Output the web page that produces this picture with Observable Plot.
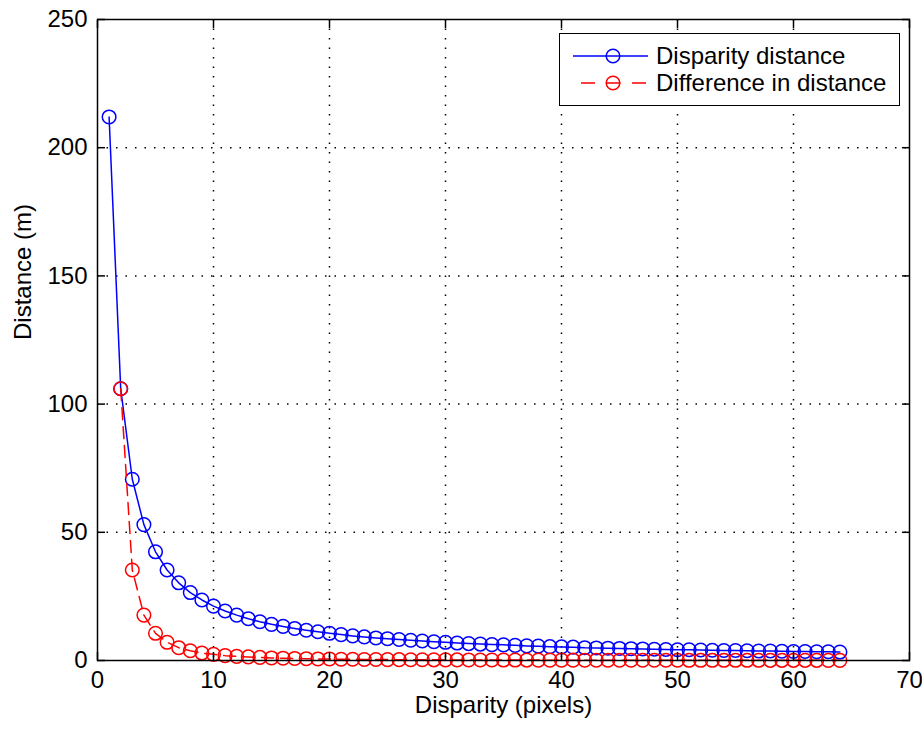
<!DOCTYPE html>
<html>
<head>
<meta charset="utf-8">
<script src="https://cdn.jsdelivr.net/npm/d3@7"></script>
<script src="https://cdn.jsdelivr.net/npm/@observablehq/plot@0.6"></script>
<style>
  html, body { margin: 0; padding: 0; background: #fff; }
  #wrap { position: relative; width: 922px; height: 729px; }
  #legend { position: absolute; left: 559px; top: 33px; width: 341px; height: 73px;
            box-sizing: border-box; border: 1px solid #000; background: #fff; }
</style>
</head>
<body>
<div id="wrap"><div id="legend"></div></div>
<script>
// ---- data ----
const disparity = d3.range(1, 65); // 1..64 pixels (x positions of markers)
const disparityDistance = [
  212.0, 106.0, 70.7, 53.0, 42.4, 35.3, 30.3, 26.5, 23.6, 21.2,
  19.3, 17.7, 16.3, 15.1, 14.1, 13.3, 12.5, 11.8, 11.2, 10.6,
  10.1, 9.6, 9.2, 8.8, 8.5, 8.2, 7.9, 7.6, 7.3, 7.1,
  6.8, 6.6, 6.4, 6.2, 6.1, 5.9, 5.7, 5.6, 5.4, 5.3,
  5.2, 5.0, 4.9, 4.8, 4.7, 4.6, 4.5, 4.4, 4.3, 4.2,
  4.2, 4.1, 4.0, 3.9, 3.9, 3.8, 3.7, 3.7, 3.6, 3.5,
  3.5, 3.4, 3.4, 3.3
];
const differenceDisparity = d3.range(2, 65); // 2..64
const differenceInDistance = [
  106.0, 35.3, 17.7, 10.6, 7.1, 5.0, 3.8, 2.9, 2.4,
  1.9, 1.6, 1.4, 1.2, 1.0, 0.9, 0.8, 0.7, 0.6, 0.6,
  0.5, 0.5, 0.4, 0.4, 0.35, 0.33, 0.3, 0.28, 0.26, 0.24,
  0.23, 0.21, 0.2, 0.19, 0.18, 0.17, 0.16, 0.15, 0.14, 0.14,
  0.13, 0.12, 0.12, 0.11, 0.11, 0.1, 0.1, 0.09, 0.09, 0.09,
  0.08, 0.08, 0.08, 0.07, 0.07, 0.07, 0.07, 0.06, 0.06, 0.06,
  0.06, 0.06, 0.05, 0.05
];
const xTicks = [0, 10, 20, 30, 40, 50, 60, 70];
const yTicks = [0, 50, 100, 150, 200, 250];
const seriesNames = ["Disparity distance", "Difference in distance"];
const seriesColors = ["#0000ff", "#ff0000"];
const xLabel = "Disparity (pixels)";
const yLabel = "Distance (m)";

const blue = disparity.map((x, i) => ({x, y: disparityDistance[i]}));
const red = differenceDisparity.map((x, i) => ({x, y: differenceInDistance[i]}));

const FONT = "Liberation Sans, Arial, sans-serif";
const FS = 24;
const chart = Plot.plot({
  width: 922, height: 729,
  marginLeft: 97, marginRight: 13, marginTop: 19, marginBottom: 69,
  style: {fontFamily: FONT, fontSize: FS + "px", color: "#000", background: "transparent"},
  x: {domain: [0, 70], label: null},
  y: {domain: [0, 250], label: null},
  marks: [
    Plot.gridX(xTicks.slice(1, -1), {stroke: "#000", strokeOpacity: 1, strokeWidth: 1.5, strokeDasharray: "1.5,8"}),
    Plot.gridY(yTicks.slice(1, -1), {stroke: "#000", strokeOpacity: 1, strokeWidth: 1.5, strokeDasharray: "1.5,8"}),
    Plot.line(blue, {x: "x", y: "y", stroke: seriesColors[0], strokeWidth: 1.5}),
    Plot.dot(blue, {x: "x", y: "y", r: 6.8, stroke: seriesColors[0], strokeWidth: 1.5, fill: "none"}),
    Plot.line(red, {x: "x", y: "y", stroke: seriesColors[1], strokeWidth: 1.5, strokeDasharray: "12,7"}),
    Plot.dot(red, {x: "x", y: "y", r: 6.8, stroke: seriesColors[1], strokeWidth: 1.5, fill: "none"}),
    Plot.frame({stroke: "#000", strokeWidth: 1.5}),
    Plot.axisX(xTicks, {anchor: "bottom", tickSize: -8, tickPadding: 18, strokeWidth: 1.5, fontSize: FS, label: null}),
    Plot.axisX(xTicks, {anchor: "top", tickSize: -8, tickFormat: () => "", strokeWidth: 1.5, label: null}),
    Plot.axisY(yTicks, {anchor: "left", tickSize: -8, tickPadding: 18, strokeWidth: 1.5, fontSize: FS, label: null}),
    Plot.axisY(yTicks, {anchor: "right", tickSize: -8, tickFormat: () => "", strokeWidth: 1.5, label: null}),
    Plot.text([xLabel], {frameAnchor: "bottom", dy: 52, fontSize: FS, text: d => d}),
    Plot.text([yLabel], {frameAnchor: "left", dx: -74, rotate: -90, fontSize: FS, text: d => d})
  ]
});
const wrap = document.getElementById("wrap");
wrap.insertBefore(chart, wrap.firstChild);

// ---- legend (inside plot, top-right) ----
const lg = d3.select("#legend").append("svg").attr("width", 339).attr("height", 71)
  .style("display", "block");
const rows = [22, 49];
seriesNames.forEach((name, i) => {
  const y = rows[i];
  const line = lg.append("line").attr("y1", y).attr("y2", y)
    .attr("stroke", seriesColors[i]).attr("stroke-width", 1.5);
  if (i === 0) line.attr("x1", 13).attr("x2", 88);
  else line.attr("x1", 21).attr("x2", 87).attr("stroke-dasharray", "14,11.5");
  lg.append("circle").attr("cx", 53).attr("cy", y).attr("r", 6.8)
    .attr("fill", "none").attr("stroke", seriesColors[i]).attr("stroke-width", 1.5);
  lg.append("text").attr("x", 96).attr("y", y).attr("dy", "0.35em")
    .attr("font-family", FONT).attr("font-size", FS).attr("fill", "#000").text(name);
});
</script>
</body>
</html>
